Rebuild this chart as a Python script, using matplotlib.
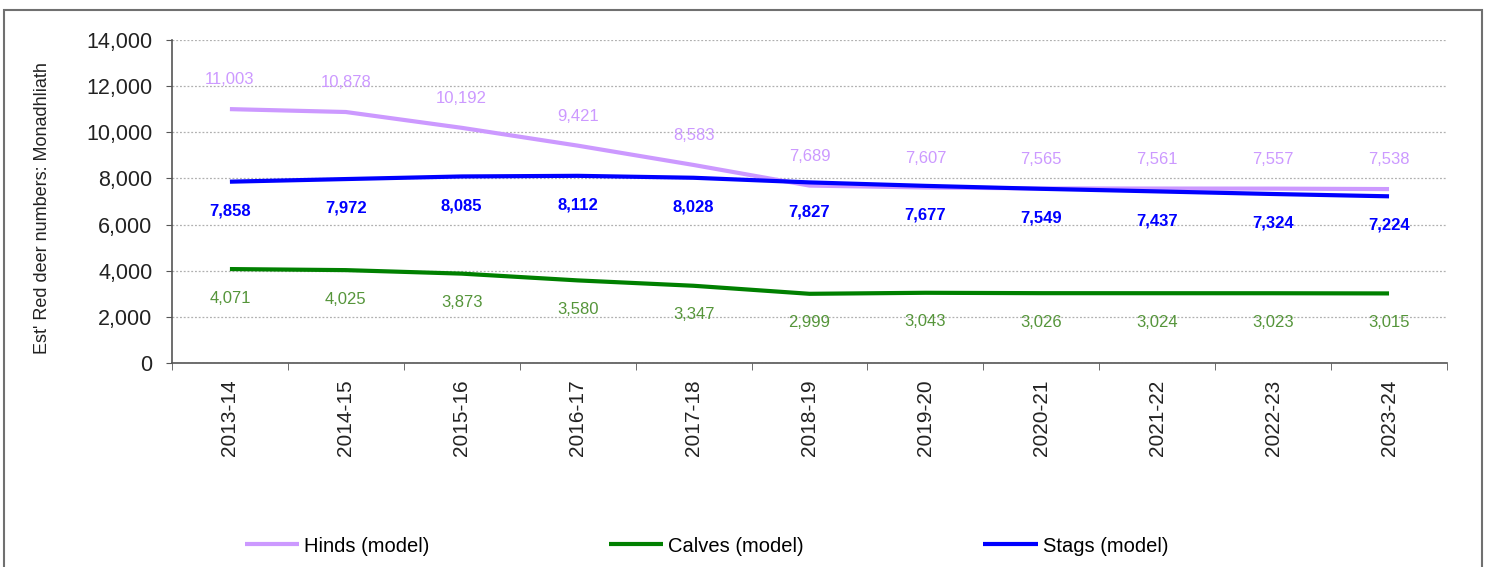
import matplotlib
matplotlib.use("Agg")
from matplotlib import pyplot as plt
from matplotlib.patches import Rectangle
import numpy

plt.rcParams['font.family'] = ['Liberation Sans', 'DejaVu Sans']

# seasons on the x axis
seasons = ["2013-14", "2014-15", "2015-16", "2016-17", "2017-18", "2018-19",
           "2019-20", "2020-21", "2021-22", "2022-23", "2023-24"]

# modelled deer numbers per season
hinds = [11003, 10878, 10192, 9421, 8583, 7689, 7607, 7565, 7561, 7557, 7538]
calves = [4071, 4025, 3873, 3580, 3347, 2999, 3043, 3026, 3024, 3023, 3015]
stags = [7858, 7972, 8085, 8112, 8028, 7827, 7677, 7549, 7437, 7324, 7224]

hind_col = "#CC99FF"
calf_col = "#008000"
stag_col = "#0000FF"


def main():
    fig = plt.figure(figsize=(14.85, 5.67), dpi=100)
    ax = fig.add_axes([0.1158, 0.3598, 0.8586, 0.5697])

    ind = numpy.arange(len(seasons))
    ax.plot(ind, hinds, color=hind_col, lw=3, label="Hinds (model)", solid_capstyle="butt")
    ax.plot(ind, calves, color=calf_col, lw=3, label="Calves (model)", solid_capstyle="butt")
    ax.plot(ind, stags, color=stag_col, lw=3, label="Stags (model)", solid_capstyle="butt")

    # data labels: hinds above, calves and stags below
    for i in ind:
        ax.annotate(f"{hinds[i]:,}", (i, hinds[i]), xytext=(0, 21), textcoords="offset points",
                    ha="center", va="center", fontsize=12, color=hind_col)
        ax.annotate(f"{stags[i]:,}", (i, stags[i]), xytext=(0, -21), textcoords="offset points",
                    ha="center", va="center", fontsize=12, color=stag_col, fontweight="bold")
        ax.annotate(f"{calves[i]:,}", (i, calves[i]), xytext=(0, -21), textcoords="offset points",
                    ha="center", va="center", fontsize=12, color="#55953A")

    ax.set_xlim(-0.5, len(seasons) - 0.5)
    ax.set_ylim(0, 14000)
    ax.set_yticks(numpy.arange(0, 14001, 2000))
    ax.yaxis.set_major_formatter(matplotlib.ticker.FuncFormatter(lambda v, p: f"{int(v):,}"))
    ax.tick_params(axis="y", labelsize=15.5, length=4, color="#555555", pad=10, labelcolor="#222222")

    ax.set_xticks(ind)
    ax.set_xticklabels(seasons, rotation=90, fontsize=15, color="#222222")
    ax.set_xticks(numpy.arange(-0.5, len(seasons), 1), minor=True)
    ax.tick_params(axis="x", which="major", length=0, pad=12)
    ax.tick_params(axis="x", which="minor", length=5, color="#555555")

    ax.grid(axis="y", linestyle=(0, (1.5, 1.5)), color="#B0B0B0", lw=0.9)
    ax.set_axisbelow(True)
    for s in ["top", "right"]:
        ax.spines[s].set_visible(False)
    ax.spines["left"].set_color("#555555")
    ax.spines["bottom"].set_color("#555555")
    ax.spines["left"].set_linewidth(1.2)
    ax.spines["bottom"].set_linewidth(1.2)

    ax.set_ylabel("Est' Red deer numbers: Monadhliath", fontsize=13, color="#222222")
    ax.yaxis.set_label_coords(-0.095, 0.48)

    fig.legend(loc="center left", bbox_to_anchor=(245 / 1485, 0.037), ncol=3, frameon=False,
               fontsize=14.5, handlelength=2.7, handletextpad=0.25, columnspacing=8.9,
               borderpad=0, borderaxespad=0)

    # outer frame round the chart
    fig.patches.append(Rectangle((4 / 1485, -0.1), 1478 / 1485, 1.082, transform=fig.transFigure,
                                 fill=False, edgecolor="#707070", lw=1.5))

    fig.savefig("out.png", dpi=100)


if __name__ == "__main__":
    main()
